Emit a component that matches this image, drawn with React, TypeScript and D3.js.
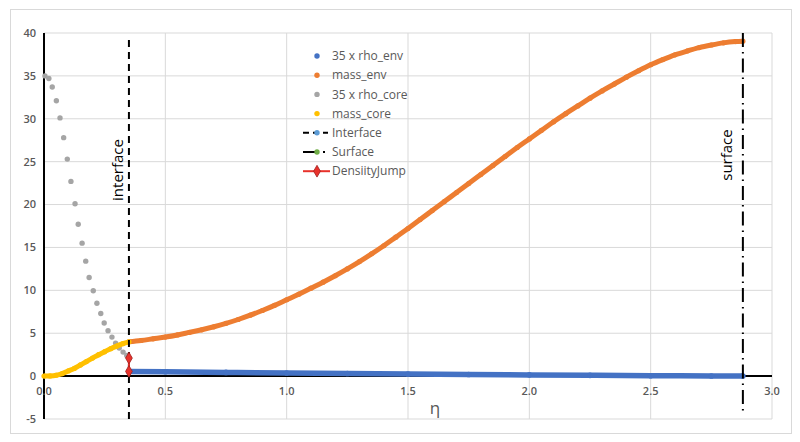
import React from 'react';
import * as d3 from 'd3';

// eta grid and values
const massEnvEta = [0.35, 0.4, 0.45, 0.5, 0.55, 0.6, 0.65, 0.7, 0.75, 0.8, 0.85, 0.9, 0.95, 1.0, 1.05, 1.1, 1.15, 1.2, 1.25, 1.3, 1.35, 1.4, 1.45, 1.5, 1.55, 1.6, 1.65, 1.7, 1.75, 1.8, 1.85, 1.9, 1.95, 2.0, 2.05, 2.1, 2.15, 2.2, 2.25, 2.3, 2.35, 2.4, 2.45, 2.5, 2.55, 2.6, 2.65, 2.7, 2.75, 2.8, 2.85, 2.88];
const massEnv = [4.0, 4.15, 4.35, 4.55, 4.8, 5.1, 5.4, 5.75, 6.15, 6.6, 7.1, 7.65, 8.25, 8.9, 9.55, 10.25, 10.95, 11.7, 12.5, 13.35, 14.25, 15.2, 16.2, 17.2, 18.25, 19.3, 20.35, 21.4, 22.45, 23.5, 24.55, 25.6, 26.65, 27.65, 28.65, 29.65, 30.6, 31.5, 32.4, 33.25, 34.05, 34.85, 35.6, 36.3, 36.9, 37.45, 37.9, 38.3, 38.6, 38.85, 39.0, 39.05];

const rhoEnvEta = [0.35, 0.5, 0.75, 1.0, 1.25, 1.5, 1.75, 2.0, 2.25, 2.5, 2.75, 2.88];
const rhoEnv = [0.55, 0.5, 0.43, 0.37, 0.31, 0.25, 0.19, 0.14, 0.09, 0.05, 0.02, 0.0];

const rhoCoreEta = [0.004, 0.02, 0.034, 0.051, 0.066, 0.081, 0.096, 0.111, 0.128, 0.141, 0.157, 0.172, 0.186, 0.203, 0.218, 0.234, 0.248, 0.264, 0.28, 0.295, 0.31, 0.326, 0.341, 0.35];
const rhoCore = [35.0, 34.7, 33.7, 32.1, 30.1, 27.8, 25.3, 22.7, 20.1, 17.7, 15.5, 13.4, 11.5, 9.95, 8.5, 7.3, 6.2, 5.3, 4.55, 3.85, 3.27, 2.8, 2.4, 2.1];

const massCoreEta = [0, 0.025, 0.05, 0.075, 0.1, 0.125, 0.15, 0.175, 0.2, 0.225, 0.25, 0.275, 0.3, 0.325, 0.35];
const massCore = [0, 0.02, 0.1, 0.3, 0.6, 0.9, 1.3, 1.7, 2.1, 2.5, 2.85, 3.2, 3.5, 3.78, 4.0];

const interfaceEta = [0.35, 0.35];
const interfaceY = [-5, 39.5];
const surfaceEta = [2.88, 2.88];
const surfaceY = [-4.5, 40];
const jumpEta = [0.35, 0.35];
const jumpY = [0.55, 2.1];

const xTicks = [0, 0.5, 1.0, 1.5, 2.0, 2.5, 3.0];
const yTicks = [-5, 0, 5, 10, 15, 20, 25, 30, 35, 40];

const legendItems = ['35 x rho_env', 'mass_env', '35 x rho_core', 'mass_core', 'Interface', 'Surface', 'DensiityJump'];

const C = {
  blue: '#4472c4',
  orange: '#ed7d31',
  gray: '#a5a5a5',
  yellow: '#ffc000',
  lightBlue: '#5b9bd5',
  green: '#70ad47',
  red: '#e8322b',
  text: '#595959',
  grid: '#d9d9d9',
};

const font = "'Open Sans', 'Liberation Sans', sans-serif";

export default function App() {
  const W = 800, H = 442;
  const x = d3.scaleLinear().domain([0, 3]).range([44, 772]);
  const y = d3.scaleLinear().domain([-5, 40]).range([419, 33]);

  const line = d3.line<[number, number]>().x(d => x(d[0])).y(d => y(d[1])).curve(d3.curveMonotoneX);
  const straight = d3.line<[number, number]>().x(d => x(d[0])).y(d => y(d[1]));
  const pts = (xs: number[], ys: number[]) => xs.map((v, i) => [v, ys[i]] as [number, number]);

  const envMass = pts(massEnvEta, massEnv);
  const envRho = pts(rhoEnvEta, rhoEnv);
  const coreRho = pts(rhoCoreEta, rhoCore);
  const coreMass = pts(massCoreEta, massCore);
  const jump = pts(jumpEta, jumpY);

  const diamond = d3.symbol().type(d3.symbolDiamond).size(40)() as string;

  const legY = (i: number) => 56 + i * 19.2;

  return (
    <div style={{ position: 'absolute', left: 0, top: 0 }}>
      <svg width={W} height={H} style={{ display: 'block', background: '#fff' }} fontFamily={font}>
        <rect x={10.5} y={9.5} width={781} height={424} fill="#fff" stroke="#d9d9d9" />

        {/* grid */}
        {yTicks.map(t => (
          <line key={'gy' + t} x1={x(0)} x2={x(3)} y1={y(t)} y2={y(t)} stroke={C.grid} strokeWidth={1} />
        ))}
        {xTicks.filter(t => t > 0).map(t => (
          <line key={'gx' + t} x1={x(t)} x2={x(t)} y1={y(40)} y2={y(-5)} stroke={C.grid} strokeWidth={1} />
        ))}

        {/* axes */}
        <line x1={x(0)} x2={x(0)} y1={y(40)} y2={y(-5)} stroke="#000" strokeWidth={2} />
        <line x1={x(0)} x2={x(3)} y1={y(0)} y2={y(0)} stroke="#000" strokeWidth={2} />

        {yTicks.map(t => (
          <text key={'ty' + t} x={36} y={y(t)} dy="0.35em" textAnchor="end" fontSize={11} fontWeight={600} fill={C.text}>{t}</text>
        ))}
        {xTicks.map(t => (
          <text key={'tx' + t} x={x(t)} y={395} textAnchor="middle" fontSize={11} fontWeight={600} fill={C.text}>{t.toFixed(1)}</text>
        ))}
        <text x={435} y={414} textAnchor="middle" fontSize={17} fill={C.text}>η</text>

        {/* series */}
        <path d={line(envRho) as string} fill="none" stroke={C.blue} strokeWidth={5.5} />
        {envRho.map((d, i) => <circle key={'re' + i} cx={x(d[0])} cy={y(d[1])} r={2.8} fill={C.blue} />)}

        <path d={line(envMass) as string} fill="none" stroke={C.orange} strokeWidth={5} />
        {envMass.map((d, i) => <circle key={'me' + i} cx={x(d[0])} cy={y(d[1])} r={2.6} fill={C.orange} />)}

        {coreRho.map((d, i) => <circle key={'rc' + i} cx={x(d[0])} cy={y(d[1])} r={2.7} fill={C.gray} />)}

        <path d={line(coreMass) as string} fill="none" stroke={C.yellow} strokeWidth={5} />
        {coreMass.map((d, i) => <circle key={'mc' + i} cx={x(d[0])} cy={y(d[1])} r={2.6} fill={C.yellow} />)}

        <line x1={x(interfaceEta[0])} x2={x(interfaceEta[1])} y1={y(interfaceY[0])} y2={y(interfaceY[1])}
          stroke="#000" strokeWidth={2} strokeDasharray="7 5" />
        <line x1={x(surfaceEta[0])} x2={x(surfaceEta[1])} y1={y(surfaceY[1])} y2={y(surfaceY[0])}
          stroke="#000" strokeWidth={2} strokeDasharray="14 5 1.5 5" />

        <path d={straight(jump) as string} fill="none" stroke={C.red} strokeWidth={2} />
        {jump.map((d, i) => (
          <path key={'dj' + i} d={diamond} transform={`translate(${x(d[0])},${y(d[1])})`} fill={C.red} stroke="#a02020" strokeWidth={0.8} />
        ))}

        {/* annotations */}
        <text transform={`translate(${123},${170}) rotate(-90)`} textAnchor="middle" fontSize={15} fill="#000">interface</text>
        <text transform={`translate(${732},${155}) rotate(-90)`} textAnchor="middle" fontSize={15} fill="#000">surface</text>

        {/* legend */}
        <g fontSize={12} fill={C.text}>
          <circle cx={317} cy={legY(0)} r={2.7} fill={C.blue} />
          <circle cx={317} cy={legY(1)} r={2.7} fill={C.orange} />
          <circle cx={317} cy={legY(2)} r={2.7} fill={C.gray} />
          <circle cx={317} cy={legY(3)} r={2.7} fill={C.yellow} />

          <line x1={303} x2={328} y1={legY(4)} y2={legY(4)} stroke="#000" strokeWidth={2} strokeDasharray="6 4" />
          <circle cx={317} cy={legY(4)} r={2.7} fill={C.lightBlue} />

          <line x1={303} x2={317} y1={legY(5)} y2={legY(5)} stroke="#000" strokeWidth={2} />
          <circle cx={317} cy={legY(5)} r={2.7} fill={C.green} />
          <rect x={323} y={legY(5) - 1} width={2} height={2} fill="#000" />

          <line x1={303} x2={330} y1={legY(6)} y2={legY(6)} stroke={C.red} strokeWidth={2} />
          <path d={diamond} transform={`translate(317,${legY(6)})`} fill={C.red} stroke="#a02020" strokeWidth={0.8} />

          {legendItems.map((t, i) => (
            <text key={'lg' + i} x={332} y={legY(i)} dy="0.35em">{t}</text>
          ))}
        </g>
      </svg>
    </div>
  );
}
